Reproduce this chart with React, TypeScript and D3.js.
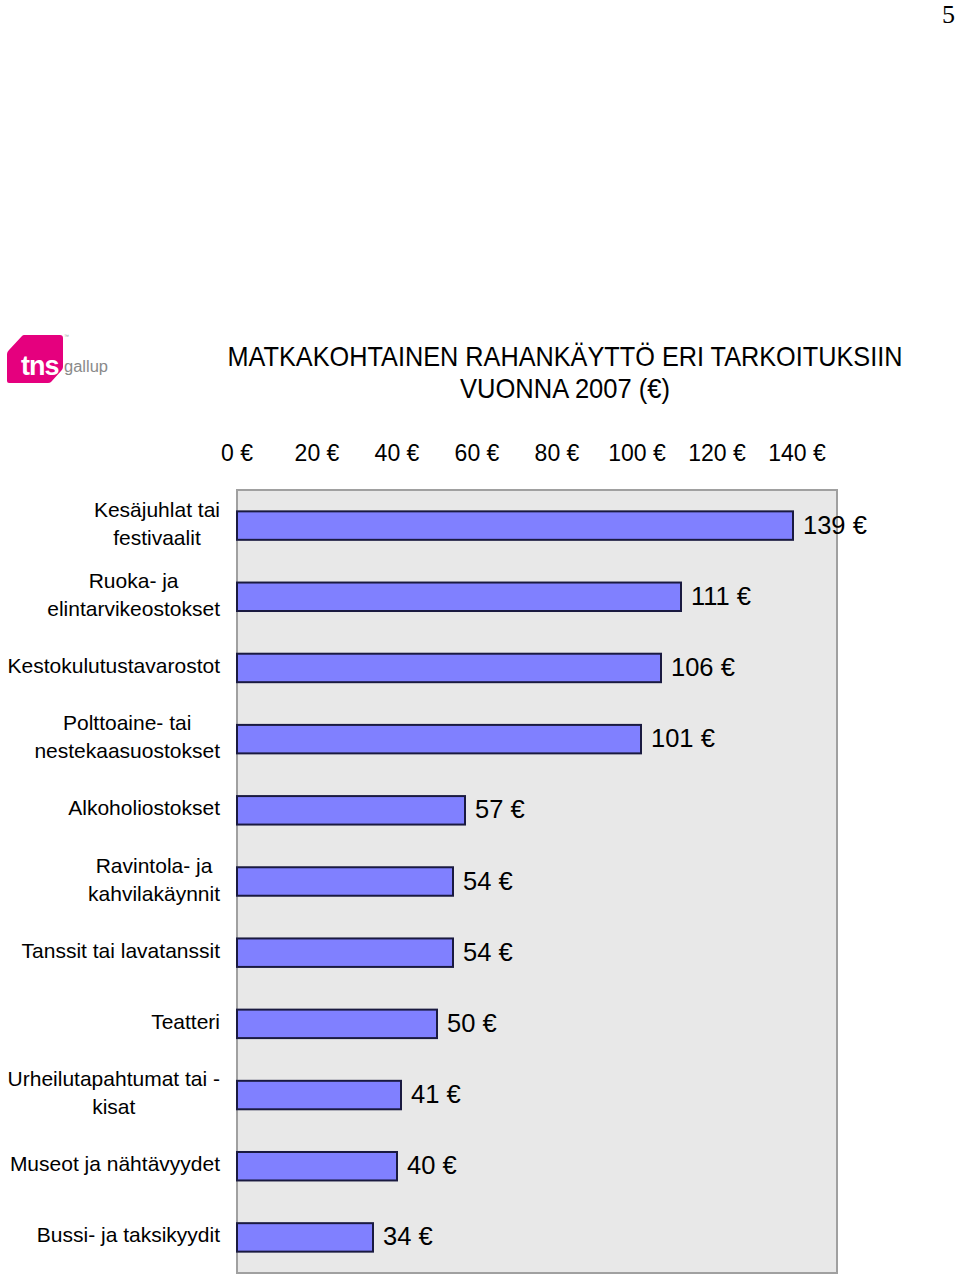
import React from "react";
import * as d3 from "d3";

const categories: string[][] = [
  ["Kesäjuhlat tai", "festivaalit"],
  ["Ruoka- ja", "elintarvikeostokset"],
  ["Kestokulutustavarostot"],
  ["Polttoaine- tai", "nestekaasuostokset"],
  ["Alkoholiostokset"],
  ["Ravintola- ja", "kahvilakäynnit"],
  ["Tanssit tai lavatanssit"],
  ["Teatteri"],
  ["Urheilutapahtumat tai -", "kisat"],
  ["Museot ja nähtävyydet"],
  ["Bussi- ja taksikyydit"],
];
const values: number[] = [139, 111, 106, 101, 57, 54, 54, 50, 41, 40, 34];
const tickValues: number[] = [0, 20, 40, 60, 80, 100, 120, 140];
const titleLines: string[] = ["MATKAKOHTAINEN RAHANKÄYTTÖ ERI TARKOITUKSIIN", "VUONNA 2007 (€)"];
const titleWidths: number[] = [675, 210];

const W = 960;
const H = 1279;
const FONT = "'Liberation Sans', Arial, sans-serif";
const catSize = 21;

let ctx: CanvasRenderingContext2D | null = null;
function measure(text: string, size: number): number {
  if (!ctx) {
    const c = document.createElement("canvas");
    ctx = c.getContext("2d");
  }
  if (!ctx) return text.length * size * 0.5;
  ctx.font = `${size}px ${FONT}`;
  return ctx.measureText(text).width;
}

export default function App() {
  const keys = categories.map((c) => c.join(" "));
  const x = d3.scaleLinear().domain([0, 150]).range([237, 837]);
  const y = d3.scaleBand<string>().domain(keys).range([490, 1273]).paddingInner(0.6).paddingOuter(0.3);
  const labelRight = 220;
  const lineH = 28;

  return (
    <svg width={W} height={H} style={{ position: "absolute", left: 0, top: 0, background: "#fff" }} fontFamily={FONT}>
      {/* page number */}
      <text x={955} y={23} textAnchor="end" fontFamily="'Liberation Serif', 'DejaVu Serif', serif" fontSize={26}>5</text>

      {/* logo */}
      <g>
        <path d="M24,335 L60,335 Q63,335 63,338 L63,367 Q63,369 61,371 L51,382 Q50,383 48,383 L9,383 Q7,383 7,381 L7,354 Q7,352 9,350 L22,336 Q23,335 24,335 Z" fill="#E5007E" />
        <text x={21} y={375} fill="#fff" fontFamily={FONT} fontWeight="bold" fontSize={27} letterSpacing={-1}>tns</text>
        <text x={64} y={372} fill="#8a8a8a" fontFamily={FONT} fontSize={16} textLength={44} lengthAdjust="spacingAndGlyphs">gallup</text>
        <text x={64} y={338} fill="#999" fontSize={5}>™</text>
      </g>

      {/* title */}
      {titleLines.map((t, i) => (
        <text key={i} x={565} y={366 + i * 32} textAnchor="middle" fontSize={28} fill="#000" textLength={titleWidths[i]} lengthAdjust="spacingAndGlyphs">{t}</text>
      ))}

      {/* tick labels */}
      {tickValues.map((v) => (
        <text key={v} x={x(v)} y={461} textAnchor="middle" fontSize={23} fill="#000">{`${v} €`}</text>
      ))}

      {/* plot area */}
      <rect x={x(0)} y={490} width={x(150) - x(0)} height={783} fill="#E8E8E8" stroke="#A0A0A0" strokeWidth={2} />

      {/* bars */}
      {keys.map((k, i) => (
        <rect key={k} x={x(0)} y={y(k)!} width={x(values[i]) - x(0)} height={y.bandwidth()} fill="#8080FF" stroke="#1a1a40" strokeWidth={2} />
      ))}

      {/* value labels */}
      {keys.map((k, i) => (
        <text key={k} x={x(values[i]) + 10} y={y(k)! + y.bandwidth() / 2 + 8} fontSize={25.5} fill="#000">{`${values[i]} €`}</text>
      ))}

      {/* category labels */}
      {categories.map((lines, i) => {
        const cy = y(keys[i])! + y.bandwidth() / 2;
        const maxW = Math.max(...lines.map((l) => measure(l, catSize)));
        const cx = labelRight - maxW / 2;
        const y0 = cy - ((lines.length - 1) * lineH) / 2 + 5;
        return (
          <g key={i}>
            {lines.map((l, j) => (
              <text key={j} x={lines.length > 1 ? cx : labelRight} y={y0 + j * lineH} textAnchor={lines.length > 1 ? "middle" : "end"} fontSize={catSize} fill="#000">{l}</text>
            ))}
          </g>
        );
      })}
    </svg>
  );
}
